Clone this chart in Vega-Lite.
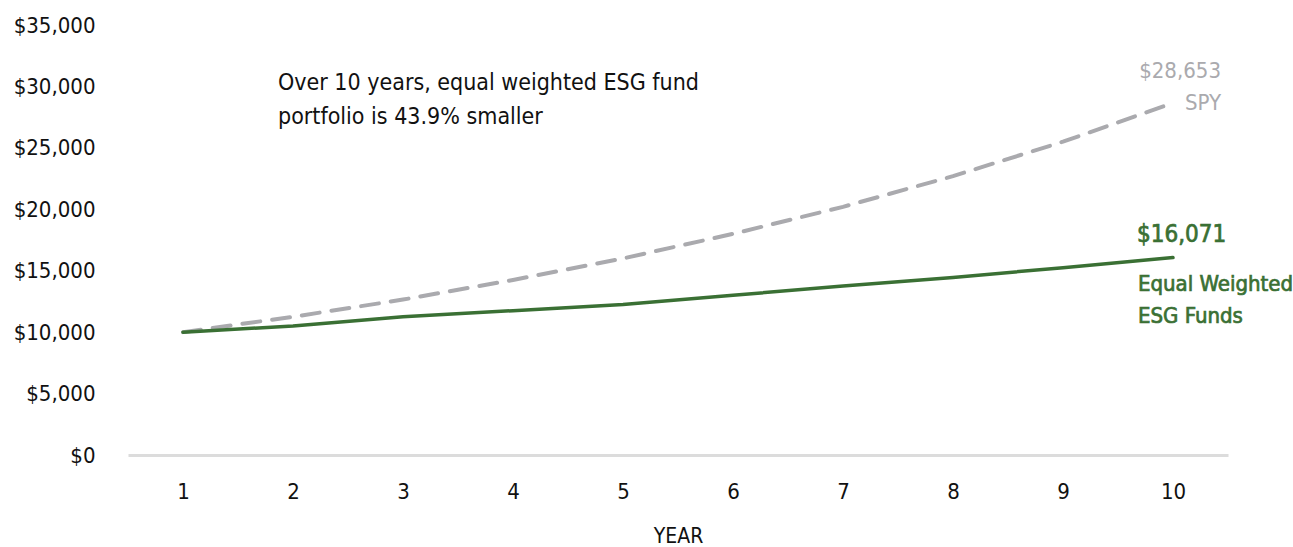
{
  "$schema": "https://vega.github.io/schema/vega-lite/v6.json",
  "autosize": "none",
  "width": 1100,
  "height": 430,
  "padding": {"left": 128, "top": 25, "right": 65, "bottom": 92},
  "background": "white",
  "config": {
    "view": {"stroke": null},
    "font": "DejaVu Sans Condensed, Roboto, sans-serif",
    "text": {"font": "DejaVu Sans Condensed, Roboto, sans-serif"}
  },
  "datasets": {
    "series": [
      {"year": "1", "series": "SPY", "value": 10000},
      {"year": "2", "series": "SPY", "value": 11250},
      {"year": "3", "series": "SPY", "value": 12650},
      {"year": "4", "series": "SPY", "value": 14250},
      {"year": "5", "series": "SPY", "value": 16000},
      {"year": "6", "series": "SPY", "value": 18000},
      {"year": "7", "series": "SPY", "value": 20200},
      {"year": "8", "series": "SPY", "value": 22700},
      {"year": "9", "series": "SPY", "value": 25500},
      {"year": "10", "series": "SPY", "value": 28653},
      {"year": "1", "series": "ESG", "value": 10000},
      {"year": "2", "series": "ESG", "value": 10500},
      {"year": "3", "series": "ESG", "value": 11250},
      {"year": "4", "series": "ESG", "value": 11750},
      {"year": "5", "series": "ESG", "value": 12250},
      {"year": "6", "series": "ESG", "value": 13000},
      {"year": "7", "series": "ESG", "value": 13750},
      {"year": "8", "series": "ESG", "value": 14450},
      {"year": "9", "series": "ESG", "value": 15250},
      {"year": "10", "series": "ESG", "value": 16071}
    ],
    "labels": [
      {"year": "10", "series": "SPY", "value": 28653, "label": ["$28,653", "SPY"]},
      {"year": "10", "series": "ESG", "value": 16071, "label": "$16,071"},
      {"year": "10", "series": "ESG", "value": 16071, "label": ["Equal Weighted", "ESG Funds"], "kind": "name"}
    ],
    "note": [
      {"year": "2", "value": 30280, "label": ["Over 10 years, equal weighted ESG fund", "portfolio is 43.9% smaller"]}
    ]
  },
  "encoding": {
    "x": {
      "field": "year", "type": "ordinal", "sort": ["1","2","3","4","5","6","7","8","9","10"],
      "scale": {"domain": ["1","2","3","4","5","6","7","8","9","10"], "padding": 0.5},
      "axis": {
        "title": "YEAR", "titleFontSize": 21, "titleFontWeight": "normal", "titleColor": "#111", "titlePadding": 23,
        "titleFont": "DejaVu Sans Condensed, Roboto, sans-serif",
        "labelAngle": 0, "labelFontSize": 22, "labelColor": "#111", "labelPadding": 26, "labelFont": "DejaVu Sans Condensed, Roboto, sans-serif",
        "ticks": false, "domainColor": "#dcdcdc", "domainWidth": 3, "grid": false
      }
    },
    "y": {
      "field": "value", "type": "quantitative",
      "scale": {"domain": [0, 35000], "nice": false},
      "axis": {
        "title": null, "values": [0,5000,10000,15000,20000,25000,30000,35000], "format": "$,d",
        "labelFontSize": 22, "labelColor": "#111", "labelPadding": 33, "labelFont": "DejaVu Sans Condensed, Roboto, sans-serif",
        "ticks": false, "domain": false, "grid": false
      }
    }
  },
  "layer": [
    {
      "data": {"name": "series"},
      "transform": [{"filter": "datum.series === 'SPY'"}],
      "mark": {"type": "line", "color": "#aaaaae", "strokeWidth": 4, "strokeDash": [18, 12], "strokeCap": "round"}
    },
    {
      "data": {"name": "series"},
      "transform": [{"filter": "datum.series === 'ESG'"}],
      "mark": {"type": "line", "color": "#3a7034", "strokeWidth": 3.5, "strokeCap": "round"}
    },
    {
      "data": {"name": "labels"},
      "transform": [{"filter": "datum.series === 'SPY'"}],
      "mark": {"type": "text", "align": "right", "baseline": "middle", "dx": 48, "dy": -32, "fontSize": 22, "lineHeight": 32, "color": "#aaaaae"},
      "encoding": {"text": {"field": "label"}}
    },
    {
      "data": {"name": "labels"},
      "transform": [{"filter": "datum.series === 'ESG' && datum.kind !== 'name'"}],
      "mark": {"type": "text", "align": "left", "baseline": "middle", "dx": -36, "dy": -23, "fontSize": 24, "fontWeight": "normal", "stroke": "#3a7034", "strokeWidth": 0.7, "color": "#3a7034"},
      "encoding": {"text": {"field": "label"}}
    },
    {
      "data": {"name": "labels"},
      "transform": [{"filter": "datum.kind === 'name'"}],
      "mark": {"type": "text", "align": "left", "baseline": "middle", "dx": -35, "dy": 26, "fontSize": 22, "fontWeight": "normal", "stroke": "#3a7034", "strokeWidth": 0.7, "lineHeight": 32, "color": "#3a7034"},
      "encoding": {"text": {"field": "label"}}
    },
    {
      "data": {"name": "note"},
      "mark": {"type": "text", "align": "left", "baseline": "middle", "dx": -15, "fontSize": 23, "lineHeight": 34, "color": "#111"},
      "encoding": {"text": {"field": "label"}}
    }
  ]
}
